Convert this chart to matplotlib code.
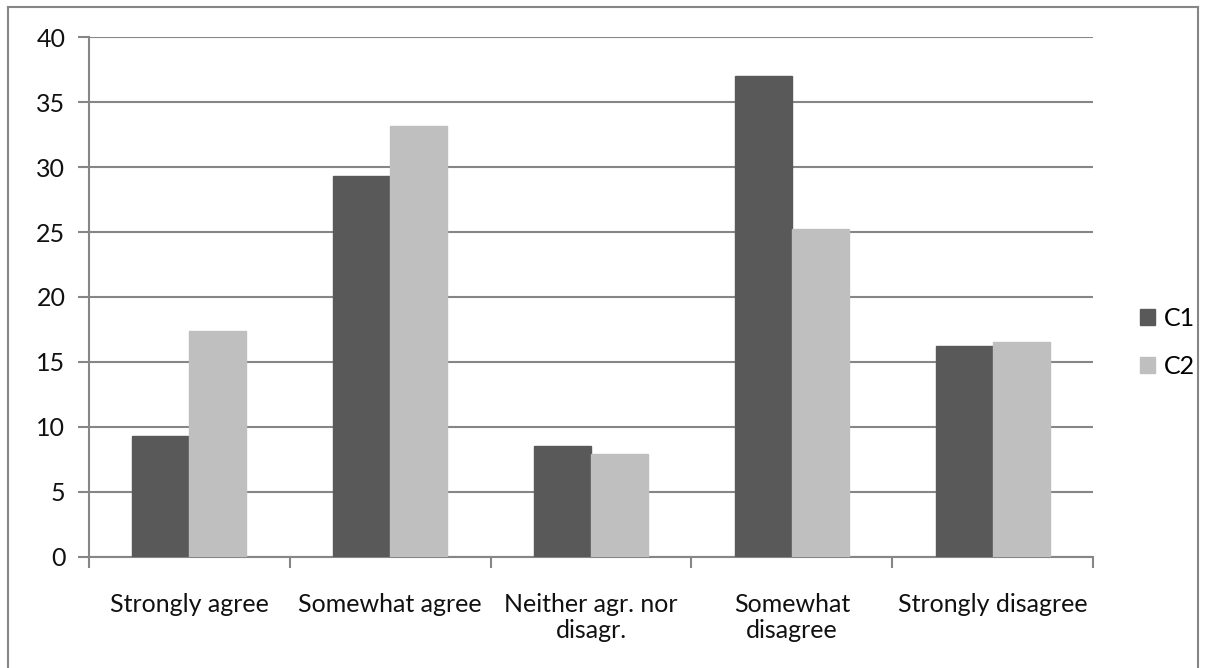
import numpy as np
import matplotlib.pyplot as plt
from matplotlib.patches import Patch
from matplotlib.lines import Line2D

# Survey answers per response category
categories = ['Strongly agree', 'Somewhat agree', 'Neither agr. nor\ndisagr.',
              'Somewhat\ndisagree', 'Strongly disagree']
c1 = [9.3, 29.3, 8.5, 37.0, 16.2]
c2 = [17.35, 33.15, 7.9, 25.25, 16.55]
series_names = ['C1', 'C2']
y_ticks = [0, 5, 10, 15, 20, 25, 30, 35, 40]

plt.rcParams['font.family'] = ['Lato', 'DejaVu Sans']

fig = plt.figure(figsize=(12.06, 6.68), dpi=100)
ax = fig.add_axes([0.0738, 0.1666, 0.8325, 0.7776])

x = np.arange(len(categories))
width = 0.284
ax.bar(x - width / 2, c1, width, color='#595959', edgecolor='#595959', zorder=3)
ax.bar(x + width / 2, c2, width, color='#bfbfbf', edgecolor='#bfbfbf', zorder=3)

ax.set_xlim(-0.5, len(categories) - 0.5)
ax.set_ylim(0, 40)
ax.set_yticks(y_ticks)
ax.yaxis.grid(True, color='#868686', linewidth=1.5, zorder=0)

# category boundary ticks on the x axis, labels in between
ax.set_xticks(np.arange(len(categories) + 1) - 0.5)
ax.set_xticklabels([])
ax.set_xticks(x, minor=True)
ax.set_xticklabels(categories, minor=True, fontsize=18, color='#111111',
                   linespacing=1.15)
ax.tick_params(axis='x', which='minor', length=0, pad=26)
ax.tick_params(axis='x', which='major', length=8, width=1.5, color='#868686')
ax.tick_params(axis='y', length=8, width=1.5, color='#868686', pad=9,
               labelsize=18, labelcolor='#111111')

for side in ['top', 'right']:
    ax.spines[side].set_visible(False)
for side in ['left', 'bottom']:
    ax.spines[side].set_color('#868686')
    ax.spines[side].set_linewidth(1.5)

handles = [Patch(facecolor='#595959', edgecolor='#595959'),
           Patch(facecolor='#bfbfbf', edgecolor='#bfbfbf')]
fig.legend(handles, series_names, loc='center left',
           bbox_to_anchor=(0.927, 0.488), frameon=False, fontsize=18,
           handlelength=0.6, handleheight=0.6, handletextpad=0.35,
           labelspacing=1.0)

# outer chart frame
frame_kw = dict(color='#868686', linewidth=1.5, transform=fig.transFigure)
fig.add_artist(Line2D([0.0069, 0.0069], [0, 0.9895], **frame_kw))
fig.add_artist(Line2D([0.0069, 0.9935], [0.9895, 0.9895], **frame_kw))
fig.add_artist(Line2D([0.9935, 0.9935], [0, 0.9895], **frame_kw))

fig.savefig('out.png', dpi=100)
